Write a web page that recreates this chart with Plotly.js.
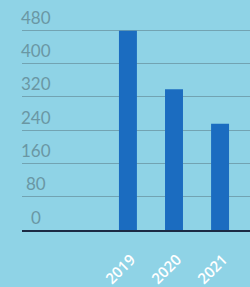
<!DOCTYPE html>
<html>
<head>
<meta charset="utf-8">
<script src="https://cdn.plot.ly/plotly-3.0.1.min.js"></script>
<style>html,body{margin:0;padding:0;background:#8fd3e6;}#chart{width:250px;height:287px;}</style>
</head>
<body>
<div id="chart"></div>
<script>
var categories = ["2019", "2020", "2021"];
var values = [478, 338, 255];
var yTickValues = [0, 80, 160, 240, 320, 400, 480];
var yTickLabels = ["0", "80", "160", "240", "320", "400", "480"];

var annotations = yTickValues.map(function (v, i) {
  return {
    xref: "paper", yref: "y",
    x: 0.06, y: v,
    xanchor: "center", yanchor: "middle",
    yshift: 13,
    text: yTickLabels[i],
    showarrow: false,
    font: {family: "Lato, 'Open Sans', sans-serif", size: 17, color: "#6a97a4"}
  };
});

var trace = {
  type: "bar",
  x: categories,
  y: values,
  marker: {color: "#1b6cc0"},
  hoverinfo: "none"
};

var layout = {
  width: 250, height: 287,
  margin: {l: 22, r: 0, t: 10, b: 57, pad: 0},
  paper_bgcolor: "#8fd3e6",
  plot_bgcolor: "#8fd3e6",
  showlegend: false,
  bargap: 0.61,
  xaxis: {
    type: "category",
    range: [-2.3, 2.65],
    showgrid: false,
    zeroline: false,
    showline: true,
    linecolor: "#1c2a44",
    linewidth: 2,
    ticks: "",
    tickangle: -45,
    ticklabelstandoff: 13,
    ticklabelshift: 3,
    tickfont: {family: "'Open Sans', sans-serif", size: 15, color: "#ffffff", weight: 600}
  },
  yaxis: {
    range: [0, 528],
    tickvals: yTickValues,
    showticklabels: false,
    showgrid: true,
    gridcolor: "#72a3b2",
    gridwidth: 1,
    zeroline: false,
    showline: false,
    ticks: ""
  },
  annotations: annotations
};

Plotly.newPlot("chart", [trace], layout, {displayModeBar: false, staticPlot: true});
</script>
</body>
</html>
